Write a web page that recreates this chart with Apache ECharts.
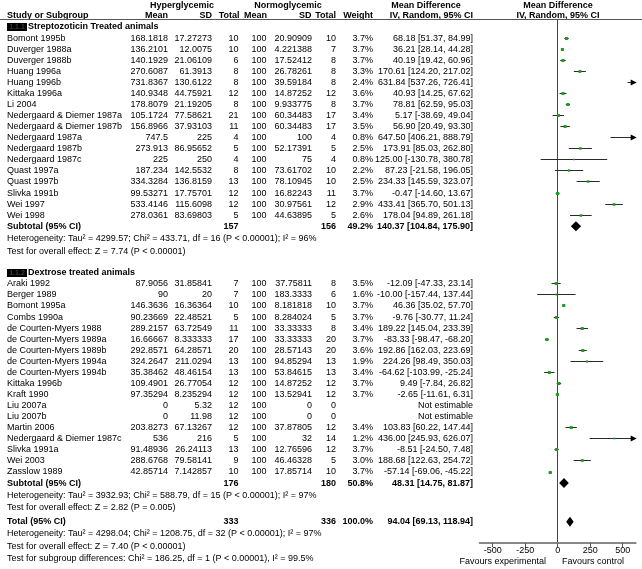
<!DOCTYPE html>
<html><head><meta charset="utf-8">
<script src="https://cdn.jsdelivr.net/npm/echarts@6/dist/echarts.min.js"></script>
<style>html,body{margin:0;padding:0;background:#fff}#c{width:642px;height:569px}</style>
</head><body><div id="c"></div>
<script>
// ---------- data ----------
const names1 = ["Bomont 1995b","Duverger 1988a","Duverger 1988b","Huang 1996a","Huang 1996b","Kittaka 1996a","Li 2004","Nedergaard & Diemer 1987a","Nedergaard & Diemer 1987b","Nedergaard 1987a","Nedergaard 1987b","Nedergaard 1987c","Quast 1997a","Quast 1997b","Slivka 1991b","Wei 1997","Wei 1998"];
const hyperMean1 = ["168.1818","136.2101","140.1929","270.6087","731.8367","140.9348","178.8079","105.1724","156.8966","747.5","273.913","225","187.234","334.3284","99.53271","533.4146","278.0361"];
const hyperSD1 = ["17.27273","12.0075","21.06109","61.3913","130.6122","44.75921","21.19205","77.58621","37.93103","225","86.95652","250","142.5532","136.8159","17.75701","115.6098","83.69803"];
const hyperN1 = [10,10,6,8,8,12,8,21,11,4,5,4,8,13,12,12,5];
const normoMean1 = ["100","100","100","100","100","100","100","100","100","100","100","100","100","100","100","100","100"];
const normoSD1 = ["20.90909","4.221388","17.52412","26.78261","39.59184","14.87252","9.933775","60.34483","60.34483","100","52.17391","75","73.61702","78.10945","16.82243","30.97561","44.63895"];
const normoN1 = [10,7,8,8,8,12,8,17,17,4,5,4,10,10,11,12,5];
const weight1 = [3.7,3.7,3.7,3.3,2.4,3.6,3.7,3.4,3.5,0.8,2.5,0.8,2.2,2.5,3.7,2.9,2.6];
const md1 = [68.18,36.21,40.19,170.61,631.84,40.93,78.81,5.17,56.90,647.50,173.91,125.00,87.23,234.33,-0.47,433.41,178.04];
const lo1 = [51.37,28.14,19.42,124.20,537.26,14.25,62.59,-38.69,20.49,406.21,85.03,-130.78,-21.58,145.59,-14.60,365.70,94.89];
const hi1 = [84.99,44.28,60.96,217.02,726.41,67.62,95.03,49.04,93.30,888.79,262.80,380.78,196.05,323.07,13.67,501.13,261.18];

const names2 = ["Araki 1992","Berger 1989","Bomont 1995a","Combs 1990a","de Courten-Myers 1988","de Courten-Myers 1989a","de Courten-Myers 1989b","de Courten-Myers 1994a","de Courten-Myers 1994b","Kittaka 1996b","Kraft 1990","Liu 2007a","Liu 2007b","Martin 2006","Nedergaard & Diemer 1987c","Slivka 1991a","Wei 2003","Zasslow 1989"];
const hyperMean2 = ["87.9056","90","146.3636","90.23669","289.2157","16.66667","292.8571","324.2647","35.38462","109.4901","97.35294","0","0","203.8273","536","91.48936","288.6768","42.85714"];
const hyperSD2 = ["31.85841","20","16.36364","22.48521","63.72549","8.333333","64.28571","211.0294","48.46154","26.77054","8.235294","5.32","11.98","67.13267","216","26.24113","79.58141","7.142857"];
const hyperN2 = [7,7,10,5,11,17,20,13,13,12,12,12,12,12,5,13,9,10];
const normoMean2 = ["100","100","100","100","100","100","100","100","100","100","100","100","100","100","100","100","100","100"];
const normoSD2 = ["37.75811","183.3333","8.181818","8.284024","33.33333","33.33333","28.57143","94.85294","53.84615","14.87252","13.52941","0","0","37.87805","32","12.76596","46.46328","17.85714"];
const normoN2 = [8,6,10,5,8,20,20,13,13,12,12,0,0,12,14,12,5,10];
const weight2 = [3.5,1.6,3.7,3.7,3.4,3.7,3.6,1.9,3.4,3.7,3.7,null,null,3.4,1.2,3.7,3.0,3.7];
const md2 = [-12.09,-10.00,46.36,-9.76,189.22,-83.33,192.86,224.26,-64.62,9.49,-2.65,null,null,103.83,436.00,-8.51,188.68,-57.14];
const lo2 = [-47.33,-157.44,35.02,-30.77,145.04,-98.47,162.03,98.49,-103.99,-7.84,-11.61,null,null,60.22,245.93,-24.50,122.63,-69.06];
const hi2 = [23.14,137.44,57.70,11.24,233.39,-68.20,223.69,350.03,-25.24,26.82,6.31,null,null,147.44,626.07,7.48,254.72,-45.22];

const pooledLabels = ["Subtotal (95% CI)","Subtotal (95% CI)","Total (95% CI)"];
const pooledHyperN = [157,176,333];
const pooledNormoN = [156,180,336];
const pooledWeight = ["49.2%","50.8%","100.0%"];
const pooledMd = [140.37,48.31,94.04];
const pooledLo = [104.84,14.75,69.13];
const pooledHi = [175.90,81.87,118.94];

const groupTitles = ["Streptozoticin Treated animals","Dextrose treated animals"];
const groupCodes = ["1.1.1","1.1.2"];
const hetText = [
  "Heterogeneity: Tau\u00b2 = 4299.57; Chi\u00b2 = 433.71, df = 16 (P < 0.00001); I\u00b2 = 96%",
  "Heterogeneity: Tau\u00b2 = 3932.93; Chi\u00b2 = 588.79, df = 15 (P < 0.00001); I\u00b2 = 97%",
  "Heterogeneity: Tau\u00b2 = 4298.04; Chi\u00b2 = 1208.75, df = 32 (P < 0.00001); I\u00b2 = 97%"
];
const effectText = [
  "Test for overall effect: Z = 7.74 (P < 0.00001)",
  "Test for overall effect: Z = 2.82 (P = 0.005)",
  "Test for overall effect: Z = 7.40 (P < 0.00001)"
];
const subgroupText = "Test for subgroup differences: Chi\u00b2 = 186.25, df = 1 (P < 0.00001), I\u00b2 = 99.5%";
const tickValues = [-500,-250,0,250,500];
const favours = ["Favours experimental","Favours control"];

// ---------- layout ----------
const Y0 = 27, P = 11.07;
const rowY = r => Y0 + r * P;
const FONT = '"Liberation Sans", Arial, sans-serif';
const FS = 9;
const X_MIN = -600, X_MAX = 600;
const PLOT_L = 479.7, PLOT_W = 156, PLOT_T = 20, PLOT_B = 543;

// rows
const rows1 = names1.map((_, i) => 1 + i);
const rows2 = names2.map((_, i) => 23.2 + i);
const pooledRows = [18, 41.2, 44.7];
const hetRows = [19.15, 42.3, 45.8];
const effRows = [20.25, 43.4, 46.9];
const subgroupRow = 48.0;
const headerRows = [0, 22.2];

const cols = { name: 7, hMean: 168, hSD: 212, hN: 238.5, nMean: 266.5, nSD: 312, nN: 336, w: 373, ci: 473 };

const g = [];
function txt(s, x, r, align, bold, extra) {
  g.push(Object.assign({
    type: 'text', x: x, y: (typeof r === 'number' ? rowY(r) : r.px),
    style: { text: s, fill: '#000', font: (bold ? 'bold ' : '') + FS + 'px ' + FONT,
             textAlign: align, textVerticalAlign: 'middle' }, silent: true
  }, extra || {}));
}
const px = v => ({ px: v });
const fmt = v => v.toFixed(2);
const ciStr = (m, l, h) => fmt(m) + " [" + fmt(l) + ", " + fmt(h) + "]";

// headers
txt("Hyperglycemic", 182, px(5.5), 'center', true);
txt("Normoglycemic", 288, px(5.5), 'center', true);
txt("Mean Difference", 426, px(5.5), 'center', true);
txt("Mean Difference", 558, px(5.5), 'center', true);
txt("Study or Subgroup", cols.name, px(15.5), 'left', true);
txt("Mean", cols.hMean, px(15.5), 'right', true);
txt("SD", cols.hSD, px(15.5), 'right', true);
txt("Total", cols.hN + 1, px(15.5), 'right', true);
txt("Mean", cols.nMean + 0.5, px(15.5), 'right', true);
txt("SD", cols.nSD - 0.5, px(15.5), 'right', true);
txt("Total", cols.nN, px(15.5), 'right', true);
txt("Weight", cols.w, px(15.5), 'right', true);
txt("IV, Random, 95% CI", cols.ci, px(15.5), 'right', true);
txt("IV, Random, 95% CI", 558, px(15.5), 'center', true);
g.push({ type: 'line', shape: { x1: 0, y1: 19.5, x2: 642, y2: 19.5 }, style: { stroke: '#555', lineWidth: 1 }, silent: true });

// group headers
headerRows.forEach((r, k) => {
  const y = rowY(r);
  g.push({ type: 'rect', shape: { x: 7, y: Math.round(y) - 4, width: 20, height: 8 }, style: { fill: '#000' }, silent: true });
  txt(groupCodes[k], 17, r, 'center', true, {});
  g[g.length - 1].style.fill = '#3a3a3a';
  g[g.length - 1].style.font = 'bold 7px ' + FONT;
  txt(groupTitles[k], 28, r, 'left', true);
});

function studyRows(names, hm, hs, hn, nm, ns, nn, w, md, lo, hi, rows) {
  names.forEach((n, i) => {
    const r = rows[i];
    txt(n, cols.name, r, 'left');
    txt(hm[i], cols.hMean, r, 'right');
    txt(hs[i], cols.hSD, r, 'right');
    txt(String(hn[i]), cols.hN, r, 'right');
    txt(nm[i], cols.nMean, r, 'right');
    txt(ns[i], cols.nSD, r, 'right');
    txt(String(nn[i]), cols.nN, r, 'right');
    if (w[i] != null) txt(w[i].toFixed(1) + "%", cols.w, r, 'right');
    txt(md[i] == null ? "Not estimable" : ciStr(md[i], lo[i], hi[i]), cols.ci, r, 'right');
  });
}
studyRows(names1, hyperMean1, hyperSD1, hyperN1, normoMean1, normoSD1, normoN1, weight1, md1, lo1, hi1, rows1);
studyRows(names2, hyperMean2, hyperSD2, hyperN2, normoMean2, normoSD2, normoN2, weight2, md2, lo2, hi2, rows2);

pooledRows.forEach((r, k) => {
  txt(pooledLabels[k], cols.name, r, 'left', true);
  txt(String(pooledHyperN[k]), cols.hN, r, 'right', true);
  txt(String(pooledNormoN[k]), cols.nN, r, 'right', true);
  txt(pooledWeight[k], cols.w, r, 'right', true);
  txt(ciStr(pooledMd[k], pooledLo[k], pooledHi[k]), cols.ci, r, 'right', true);
  txt(hetText[k], cols.name, hetRows[k], 'left');
  txt(effectText[k], cols.name, effRows[k], 'left');
});
txt(subgroupText, cols.name, subgroupRow, 'left');
txt(favours[0], 546, px(562), 'right');
txt(favours[1], 562, px(562), 'left');

// ---------- series data ----------
const studyData = [];
[[md1, lo1, hi1, weight1, rows1], [md2, lo2, hi2, weight2, rows2]].forEach(([md, lo, hi, w, rows]) => {
  md.forEach((m, i) => { if (m != null) studyData.push([lo[i], hi[i], m, rows[i], w[i]]); });
});
const pooledData = pooledMd.map((m, k) => [pooledLo[k], pooledHi[k], m, pooledRows[k]]);

function renderStudy(params, api) {
  const lo = api.value(0), hi = api.value(1), m = api.value(2), r = api.value(3), w = api.value(4);
  const l = Math.max(lo, X_MIN), h = Math.min(hi, X_MAX);
  const a = api.coord([l, r]), b = api.coord([h, r]);
  const y = Math.round(a[1] - 0.5) + 0.5;
  const ch = [{ type: 'line', shape: { x1: a[0], y1: y, x2: b[0], y2: y }, style: { stroke: '#2a2a2a', lineWidth: 1 } }];
  if (hi > X_MAX) {
    ch.push({ type: 'polygon', shape: { points: [[b[0] + 1, y], [b[0] - 5, y - 3], [b[0] - 5, y + 3]] }, style: { fill: '#000' } });
  }
  if (m >= X_MIN && m <= X_MAX) {
    const c = api.coord([m, r]);
    const s = Math.max(1.5, Math.sqrt(w) * 1.6);
    ch.push({ type: 'rect', shape: { x: c[0] - s / 2, y: y - s / 2, width: s, height: s }, style: { fill: '#1f9e1f' } });
  }
  return { type: 'group', children: ch };
}
function renderDiamond(params, api) {
  const lo = api.value(0), hi = api.value(1), m = api.value(2), r = api.value(3);
  const a = api.coord([lo, r]), b = api.coord([hi, r]), c = api.coord([m, r]);
  const hh = 5;
  return { type: 'polygon', shape: { points: [[a[0] - 0.5, a[1]], [c[0], c[1] - hh], [b[0] + 0.5, b[1]], [c[0], c[1] + hh]] }, style: { fill: '#000' } };
}

const chart = echarts.init(document.getElementById('c'), null, { renderer: 'canvas' });
chart.setOption({
  animation: false,
  backgroundColor: '#fff',
  grid: { left: PLOT_L, width: PLOT_W, top: PLOT_T, height: PLOT_B - PLOT_T, containLabel: false },
  xAxis: {
    type: 'value', min: X_MIN, max: X_MAX,
    axisLine: { show: true, onZero: false, lineStyle: { color: '#888', width: 2 } },
    axisTick: { show: true, length: 4, customValues: tickValues, lineStyle: { color: '#555' } },
    axisLabel: { show: true, customValues: tickValues, fontSize: FS, fontFamily: FONT, color: '#000', margin: 3 },
    splitLine: { show: false }
  },
  yAxis: {
    type: 'value', inverse: true, min: (PLOT_T - Y0) / P, max: (PLOT_B - Y0) / P,
    axisLine: { show: true, onZero: true, lineStyle: { color: '#444', width: 1 } },
    axisTick: { show: false }, axisLabel: { show: false }, splitLine: { show: false }
  },
  series: [
    { type: 'custom', renderItem: renderStudy, data: studyData, clip: false, silent: true },
    { type: 'custom', renderItem: renderDiamond, data: pooledData, clip: false, silent: true }
  ],
  graphic: { elements: g }
});
</script></body></html>
